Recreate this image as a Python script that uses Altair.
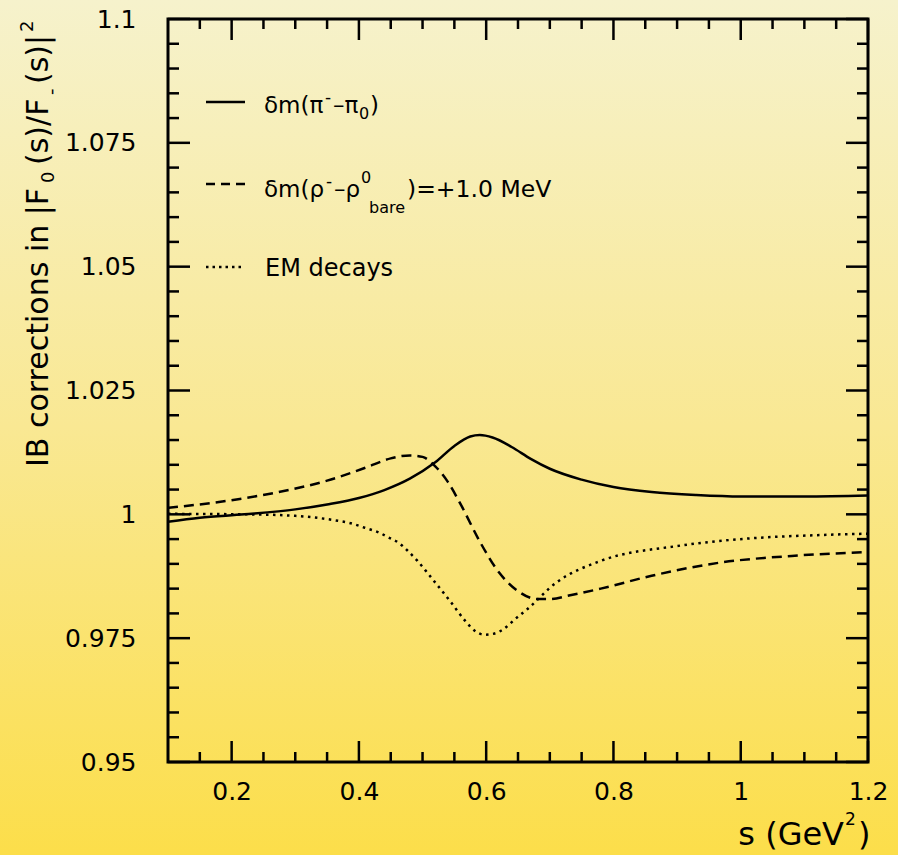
import altair as alt
import pandas as pd

# Isospin-breaking corrections to |F0(s)/F-(s)|^2 versus s (GeV^2)
s_pion = [0.10, 0.15, 0.22, 0.30, 0.35, 0.40, 0.44, 0.48, 0.52, 0.55, 0.575, 0.59,
          0.61, 0.64, 0.67, 0.70, 0.75, 0.80, 0.86, 0.93, 1.00, 1.10, 1.20]
r_pion = [0.9985, 0.9993, 1.0000, 1.0010, 1.0020, 1.0033, 1.0049, 1.0072, 1.0105,
          1.0138, 1.0157, 1.0160, 1.0155, 1.0136, 1.0112, 1.0092, 1.0070, 1.0055,
          1.0045, 1.0039, 1.0036, 1.0036, 1.0038]

s_rho = [0.10, 0.18, 0.27, 0.35, 0.41, 0.45, 0.48, 0.50, 0.52, 0.54, 0.56, 0.59,
         0.62, 0.65, 0.68, 0.70, 0.73, 0.78, 0.86, 0.97, 1.08, 1.20]
r_rho = [1.0013, 1.0025, 1.0044, 1.0068, 1.0094, 1.0113, 1.0119, 1.0116, 1.0097,
         1.0065, 1.0020, 0.9945, 0.9883, 0.9845, 0.9829, 0.9829, 0.9836, 0.9850,
         0.9876, 0.9903, 0.9916, 0.9924]

s_em = [0.10, 0.22, 0.30, 0.357, 0.387, 0.409, 0.432, 0.447, 0.462, 0.477, 0.492,
        0.507, 0.522, 0.545, 0.567, 0.582, 0.597, 0.612, 0.627, 0.645, 0.665, 0.71,
        0.78, 0.90, 1.01, 1.12, 1.20]
r_em = [1.0001, 1.0000, 0.9997, 0.9989, 0.9982, 0.9973, 0.9963, 0.9953, 0.9943,
        0.9926, 0.9906, 0.9883, 0.9859, 0.9822, 0.9785, 0.9765, 0.9757, 0.9759,
        0.9768, 0.9788, 0.9809, 0.9862, 0.9906, 0.9936, 0.9951, 0.9958, 0.9961]

x_labels = [0.2, 0.4, 0.6, 0.8, 1.0, 1.2]
y_labels = [0.95, 0.975, 1.0, 1.025, 1.05, 1.075, 1.1]

W, H = 700, 743
FONT = "DejaVu Sans"
LW = 2.5

x_minor = [round(0.1 + 0.05 * i, 3) for i in range(1, 22)]
x_minor = [v for v in x_minor if all(abs(v - m) > 1e-9 for m in x_labels)]
y_minor = [round(0.95 + 0.005 * i, 4) for i in range(1, 30)]
y_minor = [v for v in y_minor if all(abs(v - m) > 1e-9 for m in y_labels)]

xscale = alt.Scale(domain=[0.1, 1.2], nice=False, zero=False)
yscale = alt.Scale(domain=[0.95, 1.1], nice=False, zero=False)

xaxis = alt.Axis(values=x_labels, format=".4~g", title="", ticks=False, tickSize=0,
                 domain=False, grid=False, labelFont=FONT, labelFontSize=25,
                 labelColor="black", labelPadding=17, labelFlush=False, zindex=1)
yaxis = alt.Axis(values=y_labels, format=".4~g", title="", ticks=False, tickSize=0,
                 domain=False, grid=False, labelFont=FONT, labelFontSize=25,
                 labelColor="black", labelPadding=32, zindex=1)


def X(field):
    return alt.X(f"{field}:Q", scale=xscale, axis=xaxis)


def Y(field):
    return alt.Y(f"{field}:Q", scale=yscale, axis=yaxis)


one = pd.DataFrame({"k": [0]})

# page background: pale cream at the top fading to saturated yellow
gradient = alt.LinearGradient(
    gradient="linear",
    stops=[alt.GradientStop(color="#f6f2cc", offset=0),
           alt.GradientStop(color="#f9e893", offset=0.5),
           alt.GradientStop(color="#fcde4a", offset=1)],
    x1=0, x2=0, y1=0, y2=1,
)
background = alt.Chart(one).mark_rect(color=gradient).encode(
    x=alt.value(-168), x2=alt.value(730), y=alt.value(-19), y2=alt.value(836)
)


def curve(s, r, dash):
    df = pd.DataFrame({"s": s, "r": r})
    props = dict(color="black", strokeWidth=LW, interpolate="monotone")
    if dash:
        props["strokeDash"] = dash
    return alt.Chart(df).mark_line(**props).encode(x=X("s"), y=Y("r"))


curves = [
    curve(s_pion, r_pion, None),
    curve(s_rho, r_rho, [10, 6]),
    curve(s_em, r_em, [2.5, 4.5]),
]


# inward ticks on all four sides
def xticks(vals, length):
    df = pd.DataFrame({"s": vals})
    bottom = alt.Chart(df).mark_rule(color="black", strokeWidth=LW).encode(
        x=X("s"), y=alt.value(H), y2=alt.value(H - length))
    top = alt.Chart(df).mark_rule(color="black", strokeWidth=LW).encode(
        x=X("s"), y=alt.value(0), y2=alt.value(length))
    return [bottom, top]


def yticks(vals, length):
    df = pd.DataFrame({"r": vals})
    left = alt.Chart(df).mark_rule(color="black", strokeWidth=LW).encode(
        y=Y("r"), x=alt.value(0), x2=alt.value(length))
    right = alt.Chart(df).mark_rule(color="black", strokeWidth=LW).encode(
        y=Y("r"), x=alt.value(W - length), x2=alt.value(W))
    return [left, right]


ticks = xticks(x_labels, 21) + xticks(x_minor, 10) + yticks(y_labels, 22) + yticks(y_minor, 11)

frame = alt.Chart(one).mark_rect(fillOpacity=0, stroke="black", strokeWidth=3).encode(
    x=alt.value(0), x2=alt.value(W), y=alt.value(0), y2=alt.value(H)
)


def txt(s, x, y, size, angle=0, align="left"):
    return alt.Chart(one).mark_text(
        text=s, font=FONT, fontSize=size, color="black", align=align,
        baseline="alphabetic", angle=angle
    ).encode(x=alt.value(x), y=alt.value(y))


def sample(y, dash):
    props = dict(color="black", strokeWidth=LW)
    if dash:
        props["strokeDash"] = dash
    return alt.Chart(one).mark_rule(**props).encode(
        x=alt.value(38), x2=alt.value(77), y=alt.value(y))


OX, OY = 168, 19  # plot origin on the page
LF, SF = 23, 16

legend = [
    sample(102 - OY, None),
    sample(184 - OY, [9, 6]),
    sample(267 - OY, [2.5, 4]),
    # δm(π⁻−π₀)
    txt("δm(π", 264 - OX, 113 - OY, LF),
    txt("-", 325 - OX, 103 - OY, 17),
    txt("–π", 333 - OX, 113 - OY, LF),
    txt("0", 359 - OX, 119 - OY, SF),
    txt(")", 370 - OX, 113 - OY, LF),
    # δm(ρ⁻−ρ⁰_bare)=+1.0 MeV
    txt("δm(ρ", 264 - OX, 197 - OY, LF),
    txt("-", 326 - OX, 187 - OY, 17),
    txt("–ρ", 334 - OX, 197 - OY, LF),
    txt("0", 361 - OX, 183 - OY, SF),
    txt("bare", 369 - OX, 213 - OY, SF),
    txt(")=+1.0 MeV", 407 - OX, 197 - OY, 23.5),
    # EM decays
    txt("EM decays", 265 - OX, 276 - OY, 24),
]

# axis titles
TF = 30
titles = [
    txt("IB corrections in |F", 48 - OX, 467 - OY, TF, angle=270),
    txt("0", 54 - OX, 183 - OY, 18, angle=270),
    txt("(s)/F", 48 - OX, 165 - OY, TF, angle=270),
    txt("-", 57 - OX, 95 - OY, 18, angle=270),
    txt("(s)|", 48 - OX, 84 - OY, TF, angle=270),
    txt("2", 33 - OX, 32 - OY, 18, angle=270),
    txt("s (GeV", 844 - OX, 845 - OY, 32, align="right"),
    txt("2", 845 - OX, 825 - OY, 17),
    txt(")", 858 - OX, 845 - OY, 32),
]

chart = alt.layer(background, *curves, *ticks, frame, *legend, *titles).properties(
    width=W, height=H,
    autosize=alt.AutoSizeParams(type="none"),
    padding={"left": OX, "top": OY, "right": 898 - OX - W, "bottom": 855 - OY - H},
).configure_view(stroke="transparent")

chart.save("out.html", embed_options={"renderer": "svg", "actions": False})
